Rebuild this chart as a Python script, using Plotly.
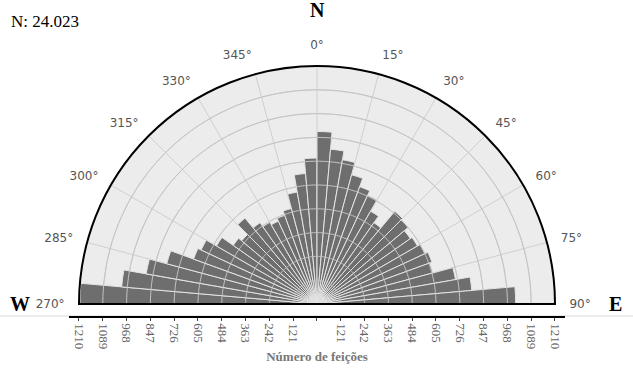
import plotly.graph_objects as go

# Data: feature counts per 5-degree azimuth bin (bin start angle)
bin_starts = [270, 275, 280, 285, 290, 295, 300, 305, 310, 315, 320, 325,
              330, 335, 340, 345, 350, 355,
              0, 5, 10, 15, 20, 25, 30, 35, 40, 45, 50, 55,
              60, 65, 70, 75, 80, 85]
counts = [1205, 997, 882, 791, 668, 650, 590, 520, 500, 570, 505, 480,
          465, 480, 503, 578, 666, 742,
          877, 790, 745, 680, 635, 610, 545, 505, 615, 605, 580, 590,
          605, 622, 610, 715, 790, 1010]
BIN_WIDTH = 5
R_MAX = 1210
R_STEP = 121
angle_ticks = [270, 285, 300, 315, 330, 345, 0, 15, 30, 45, 60, 75, 90]
angle_labels = [f"{a}°" for a in angle_ticks]
tick_vals = [v * R_STEP for v in range(-10, 11)]
tick_text = [str(abs(v)) if v != 0 else "" for v in tick_vals]
total_label = "N: 24.023"
axis_title = "Número de feições"

theta_centers = [(b + BIN_WIDTH / 2) % 360 for b in bin_starts]
# signed angles so that every tick falls inside the displayed half circle
angle_tickvals = [((a + 180) % 360) - 180 for a in angle_ticks]

W, H = 633, 378
cx, cy, R = 317, 304, 238  # pixel geometry of the half rose


def px(x):
    return x / W


def py(y):
    return 1 - y / H


fig = go.Figure()
fig.add_trace(go.Barpolar(
    r=counts, theta=theta_centers, width=[BIN_WIDTH] * len(counts),
    marker=dict(color="#6e6e6e", line=dict(color="#e4e4e4", width=1)),
    hoverinfo="r+theta", showlegend=False,
))
# radial grid circles redrawn above the bars
arc_theta = [(270 + d) % 360 for d in range(0, 181)]
for k in range(1, 10):
    fig.add_trace(go.Scatterpolar(
        r=[k * R_STEP] * len(arc_theta), theta=arc_theta, mode="lines",
        line=dict(color="#c4c4c4", width=1), hoverinfo="skip", showlegend=False))

# invisible cartesian trace to create the bottom scale axis
fig.add_trace(go.Scatter(x=[-R_MAX, R_MAX], y=[0, 0], mode="markers",
                         marker=dict(opacity=0), hoverinfo="skip", showlegend=False))

px_per_unit = R / R_MAX
x_pad = 1260
axis_y = 316
fig.update_layout(
    width=W, height=H,
    margin=dict(l=0, r=0, t=0, b=0),
    paper_bgcolor="white", plot_bgcolor="white",
    showlegend=False,
    polar=dict(
        domain=dict(x=[px(cx - R), px(cx + R)], y=[py(cy), py(cy - R)]),
        sector=[0, 180],
        bgcolor="#ececec",
        radialaxis=dict(range=[0, R_MAX], dtick=R_STEP, tick0=0, showticklabels=False,
                        ticks="", showline=False, gridcolor="#cfcfcf", gridwidth=1),
        angularaxis=dict(rotation=90, direction="clockwise",
                         tickmode="array", tickvals=angle_tickvals, ticktext=angle_labels,
                         showline=True, linecolor="black", linewidth=2,
                         gridcolor="#cfcfcf", ticks="outside", ticklen=11,
                         tickcolor="rgba(0,0,0,0)",
                         tickfont=dict(family="DejaVu Sans", size=12, color="#555555")),
    ),
    xaxis=dict(domain=[px(cx - x_pad * px_per_unit), px(cx + x_pad * px_per_unit)],
               range=[-x_pad, x_pad], anchor="y",
               tickmode="array", tickvals=tick_vals, ticktext=tick_text,
               tickangle=90, ticks="outside", ticklen=3, tickcolor="#444",
               showline=True, linecolor="black", linewidth=1.5,
               showgrid=False, zeroline=False,
               tickfont=dict(family="Liberation Serif", size=13, color="#666666"),
               title=dict(text=f"<b>{axis_title}</b>",
                          font=dict(family="Liberation Serif", size=13, color="#777777"),
                          standoff=4)),
    yaxis=dict(domain=[py(axis_y), py(axis_y - 6)], visible=False, range=[-1, 1]),
    shapes=[
        dict(type="line", xref="paper", yref="paper", x0=0, x1=1,
             y0=py(axis_y), y1=py(axis_y), line=dict(color="#d9d9d9", width=1), layer="below"),
        dict(type="line", xref="x", yref="paper", x0=-R_MAX, x1=R_MAX,
             y0=py(cy), y1=py(cy), line=dict(color="black", width=2)),
    ],
    annotations=[
        dict(text="<b>N</b>", x=px(cx), y=py(10), xref="paper", yref="paper",
             xanchor="center", yanchor="middle", showarrow=False,
             font=dict(family="Liberation Serif", size=20, color="black")),
        dict(text="<b>W</b>", x=px(20), y=py(cy), xref="paper", yref="paper",
             xanchor="center", yanchor="middle", showarrow=False,
             font=dict(family="Liberation Serif", size=20, color="black")),
        dict(text="<b>E</b>", x=px(615), y=py(cy), xref="paper", yref="paper",
             xanchor="center", yanchor="middle", showarrow=False,
             font=dict(family="Liberation Serif", size=20, color="black")),
        dict(text=total_label, x=px(9), y=py(21), xref="paper", yref="paper",
             xanchor="left", yanchor="middle", showarrow=False,
             font=dict(family="Liberation Serif", size=17, color="black")),
    ],
)
fig.write_html("out.html", config={"displayModeBar": False},
               post_script="document.body.style.margin='0px';")
